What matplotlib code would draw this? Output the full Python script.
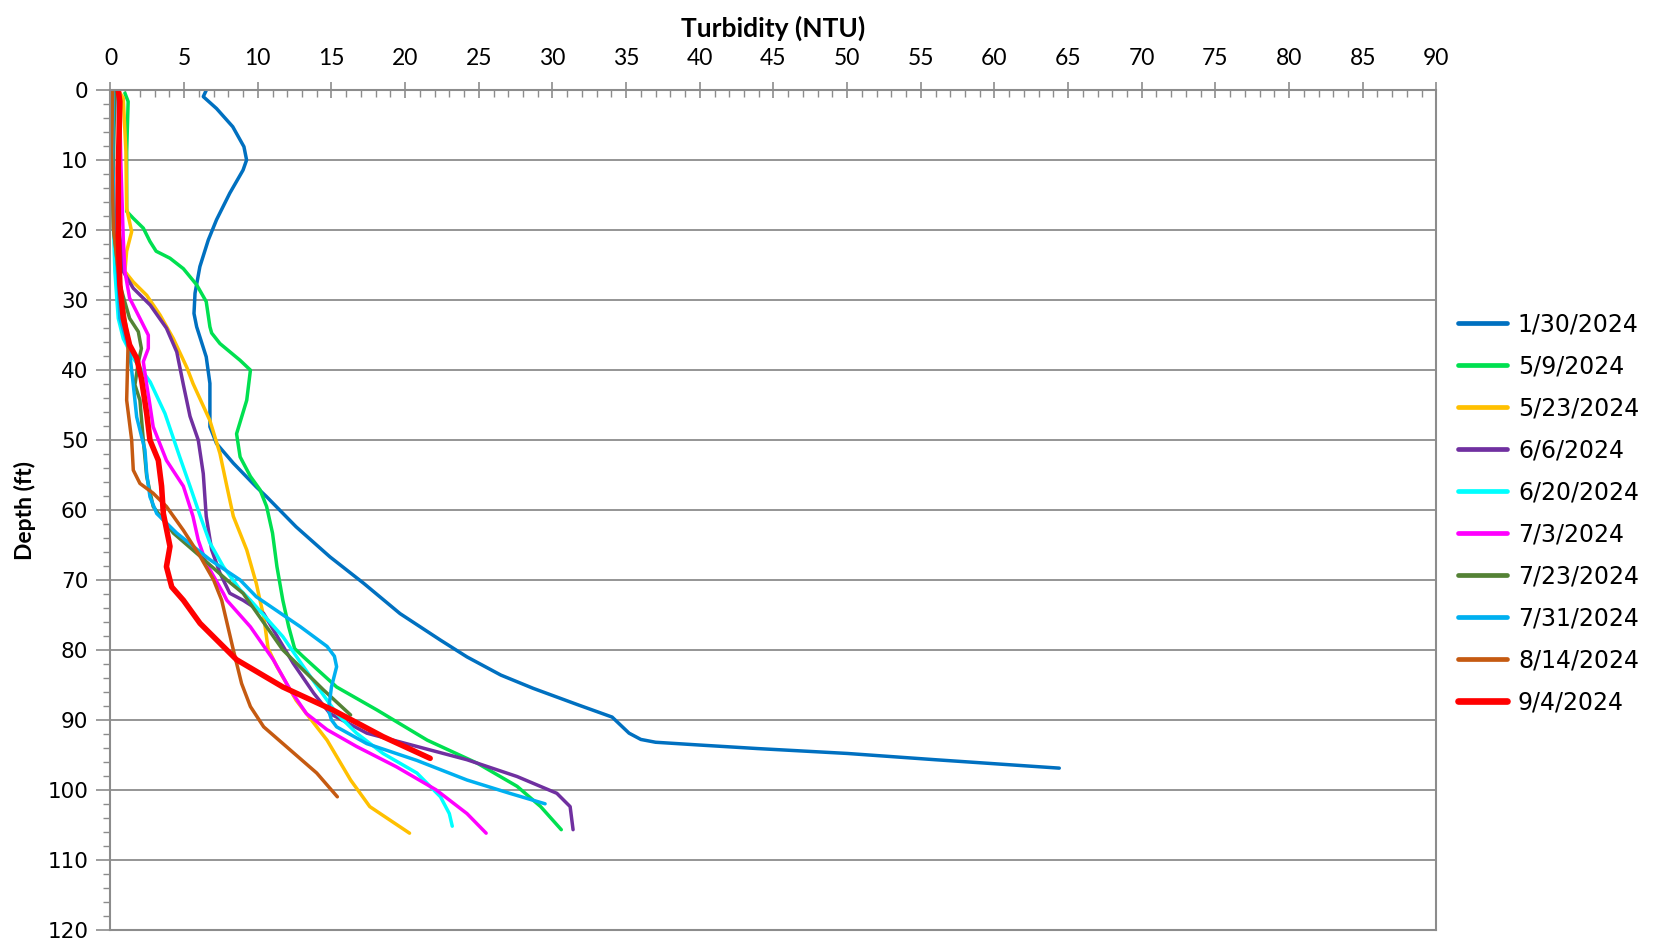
import matplotlib
matplotlib.use("Agg")
import matplotlib.pyplot as plt
from matplotlib.ticker import MultipleLocator

# ---- data (turbidity NTU, depth ft) ----
labels = ["1/30/2024", "5/9/2024", "5/23/2024", "6/6/2024", "6/20/2024",
          "7/3/2024", "7/23/2024", "7/31/2024", "8/14/2024", "9/4/2024"]
colors = ["#0070C0", "#00E050", "#FFC000", "#7030A0", "#00FFFF",
          "#FF00FF", "#548235", "#00B0F0", "#C55A11", "#FF0000"]

t_0130 = [6.5, 6.3, 7.2, 8.3, 9.06, 9.24, 9.0, 8.1, 7.2, 6.64, 6.07, 5.74, 5.67, 5.85, 6.5, 6.75,
          6.75, 7.2, 8.34, 9.9, 10.6, 12.6, 14.9, 17.2, 19.65, 22.4, 24.2, 26.5, 28.7, 31.8, 34.05,
          34.5, 35.2, 36.0, 37.0, 40.0, 43.9, 50.0, 56.0, 64.4]
d_0130 = [0, 0.9, 2.6, 5.2, 8.06, 9.96, 11.4, 14.7, 18.5, 21.4, 25.2, 29, 31.9, 33.8, 38.1, 41.9,
          48.1, 50.5, 53.3, 56.7, 58.1, 62.4, 66.7, 70.5, 74.8, 78.6, 81.0, 83.6, 85.5, 87.9, 89.6,
          90.5, 91.9, 92.8, 93.2, 93.6, 94.1, 94.8, 95.7, 96.9]

t_0509 = [0.98, 1.2, 1.1, 1.1, 1.55, 2.23, 2.68, 3.1, 4.04, 4.95, 5.85, 6.5, 6.75, 6.87, 7.43,
          8.8, 9.5, 9.25, 8.56, 8.8, 9.5, 10.15, 10.6, 11.0, 11.3, 11.7, 12.1, 12.5, 13.1, 15.35,
          18.1, 21.5, 24.9, 27.6, 29.2, 30.6]
d_0509 = [0.4, 1.6, 8.8, 17.3, 18.3, 19.7, 21.6, 23.0, 24.0, 25.5, 27.8, 30.2, 33.8, 34.7, 36.2,
          38.6, 40.0, 44.3, 49.1, 52.4, 55.2, 57.1, 59.5, 63.3, 68.1, 72.9, 76.7, 79.8, 81.0, 85.3,
          88.6, 92.9, 96.2, 99.5, 102.4, 105.7]

t_0523 = [0.53, 0.87, 1.05, 1.1, 1.44, 1.1, 0.98, 1.55, 2.46, 3.36, 4.27, 5.2, 5.6, 6.75, 7.43,
          7.9, 8.34, 9.25, 9.9, 10.15, 10.4, 10.7, 11.3, 12.6, 14.7, 16.3, 17.6, 20.3]
d_0523 = [0, 1.1, 8.8, 16.9, 20.2, 23.0, 25.9, 27.4, 29.3, 32.1, 35.5, 39.7, 41.9, 47.2, 51.9,
          56.6, 60.9, 65.7, 70.5, 72.9, 75.2, 79.8, 82.4, 87.2, 92.9, 98.6, 102.4, 106.2]

t_0606 = [0.5, 0.6, 0.6, 0.87, 1.55, 2.7, 3.8, 4.5, 4.95, 5.4, 5.96, 6.3, 6.5, 6.87, 7.43, 8.1,
          9.0, 10.4, 12.4, 13.8, 14.9, 17.4, 20.8, 24.2, 27.6, 30.3, 31.2, 31.4]
d_0606 = [0, 10, 20, 25.9, 28.3, 30.7, 34.0, 37.4, 42.1, 46.6, 50.0, 54.8, 60.9, 65.7, 69.0, 71.9,
          72.9, 74.8, 81.9, 86.2, 89.1, 91.9, 93.8, 95.7, 98.1, 100.5, 102.4, 105.7]

t_0620 = [0.0, 0.0, 0.08, 0.2, 0.3, 0.53, 0.87, 1.55, 2.7, 3.7, 4.7, 5.4, 6.1, 6.75, 7.66, 8.8,
          9.5, 11.7, 13.1, 14.2, 15.35, 16.7, 18.5, 20.8, 22.4, 23.0, 23.2]
d_0620 = [0, 3, 13.5, 19.3, 25.9, 32.6, 35.5, 38.3, 41.7, 46.2, 52.4, 56.6, 60.9, 64.7, 68.1, 71.4,
          72.9, 78.1, 82.4, 85.7, 89.1, 91.9, 94.8, 97.6, 101.0, 103.4, 105.2]

t_0703 = [0.6, 0.7, 0.87, 0.98, 1.3, 2.0, 2.57, 2.57, 2.23, 2.46, 2.68, 2.9, 3.8, 4.95, 5.6,
          5.96, 6.5, 7.66, 7.9, 9.5, 11.05, 12.2, 13.3, 14.7, 16.7, 19.4, 22.1, 24.2, 25.5]
d_0703 = [0, 10, 21.2, 25.9, 29.7, 32.6, 35.0, 36.9, 38.8, 42.1, 45.0, 48.1, 52.9, 56.6, 60.9,
          64.3, 67.6, 71.9, 72.9, 76.7, 81.4, 85.7, 89.1, 91.4, 93.8, 96.7, 100.0, 103.4, 106.2]

t_0723 = [0.3, 0.2, 0.2, 0.64, 1.3, 1.89, 2.1, 1.9, 1.66, 2.0, 2.23, 2.46, 2.9, 4.27, 6.08, 7.9,
          9.0, 11.7, 14.45, 16.3]
d_0723 = [0, 10, 19.7, 27.8, 32.6, 34.5, 36.9, 38.8, 42.1, 44.3, 50.0, 55.2, 59.5, 63.3, 66.6,
          70.0, 71.9, 80.0, 85.7, 89.3]

t_0731 = [0.2, 0.15, 0.3, 0.53, 0.64, 1.3, 1.55, 1.78, 2.34, 2.46, 2.68, 3.14, 4.5, 6.75, 8.8,
          9.9, 12.9, 14.7, 15.2, 15.35, 15.0, 14.8, 15.0, 15.35, 17.4, 20.8, 24.2, 27.1, 29.5]
d_0731 = [0, 10, 20, 27.8, 32.6, 37.4, 42.1, 46.7, 51.4, 54.8, 58.1, 60.5, 63.3, 67.1, 70.0,
          72.4, 76.7, 79.5, 80.9, 82.4, 85.3, 88.6, 90.0, 91.0, 93.4, 95.8, 98.6, 100.5, 102.0]

t_0814 = [0.15, 0.08, 0.2, 0.53, 0.98, 1.2, 1.1, 1.44, 1.55, 2.0, 2.9, 3.8, 4.95, 6.08, 7.0,
          7.55, 8.34, 8.9, 9.5, 10.4, 12.2, 14.0, 15.4]
d_0814 = [0, 8.8, 19.7, 25.9, 32.6, 36.0, 44.3, 50.0, 54.3, 56.2, 57.6, 59.5, 62.9, 66.6, 70.0,
          72.9, 80.0, 84.8, 88.1, 91.0, 94.3, 97.6, 101.0]

t_0904 = [0.53, 0.64, 0.53, 0.53, 0.64, 0.87, 1.3, 1.78, 2.1, 2.46, 2.68, 3.25, 3.47, 3.59,
          4.04, 3.8, 4.16, 4.95, 6.08, 8.56, 11.7, 15.1, 18.5, 21.7]
d_0904 = [0, 1.6, 11.2, 20.7, 27.8, 32.6, 36.4, 38.3, 41.2, 46.2, 50.0, 52.9, 56.6, 60.5,
          65.2, 68.1, 71.0, 72.9, 76.2, 81.4, 85.3, 88.6, 92.4, 95.5]

series_t = [t_0130, t_0509, t_0523, t_0606, t_0620, t_0703, t_0723, t_0731, t_0814, t_0904]
series_d = [d_0130, d_0509, d_0523, d_0606, d_0620, d_0703, d_0723, d_0731, d_0814, d_0904]
widths = [2.5] * 9 + [4.0]

x_ticks = list(range(0, 95, 5))
y_ticks = list(range(0, 130, 10))

# ---- figure ----
fig = plt.figure(figsize=(16.66, 9.41), dpi=100)
ax = fig.add_axes([0.0663, 0.012, 0.7959, 0.892])

for t, d, c, lab, w in zip(series_t, series_d, colors, labels, widths):
    ax.plot(t, d, color=c, lw=w, label=lab, solid_capstyle="round", solid_joinstyle="round")

ax.set_xlim(0, 90)
ax.set_ylim(120, 0)
ax.xaxis.tick_top()
ax.xaxis.set_label_position("top")
ax.set_xticks(x_ticks)
ax.set_yticks(y_ticks)
ax.xaxis.set_minor_locator(MultipleLocator(1))
ax.yaxis.set_minor_locator(MultipleLocator(2))

ax.grid(axis="y", which="major", color="#8C8C8C", lw=1.3)
ax.set_axisbelow(True)
for s in ax.spines.values():
    s.set_color("#8C8C8C")
    s.set_linewidth(1.5)

ax.tick_params(axis="x", which="major", direction="inout", length=11, width=1.2,
               color="#8C8C8C", pad=10, labelsize=16.5)
ax.tick_params(axis="x", which="minor", direction="in", length=5, width=1.0, color="#8C8C8C")
ax.tick_params(axis="y", which="major", direction="out", length=10, width=1.2,
               color="#8C8C8C", pad=6, labelsize=15.5)
ax.tick_params(axis="y", which="minor", direction="out", length=5, width=1.0, color="#8C8C8C")

for lbl in ax.get_xticklabels():
    lbl.set_fontfamily(["Lato", "DejaVu Sans"])
for lbl in ax.get_yticklabels():
    lbl.set_fontfamily(["DejaVu Sans"])

ax.set_xlabel("Turbidity (NTU)", fontsize=19, fontweight="bold",
              family=["Lato", "DejaVu Sans"], labelpad=8)
ax.set_ylabel("Depth (ft)", fontsize=16.5, fontweight="bold",
              family=["Lato", "DejaVu Sans"], labelpad=8)

leg = ax.legend(loc="center left", bbox_to_anchor=(1.0, 0.496), frameon=False,
                prop={"family": "DejaVu Sans", "size": 17}, handlelength=2.1,
                handletextpad=0.45, labelspacing=0.76)
for h in leg.get_lines():
    h.set_linewidth(3.4)
leg.get_lines()[-1].set_linewidth(4.8)

fig.savefig("out.png", dpi=100)
